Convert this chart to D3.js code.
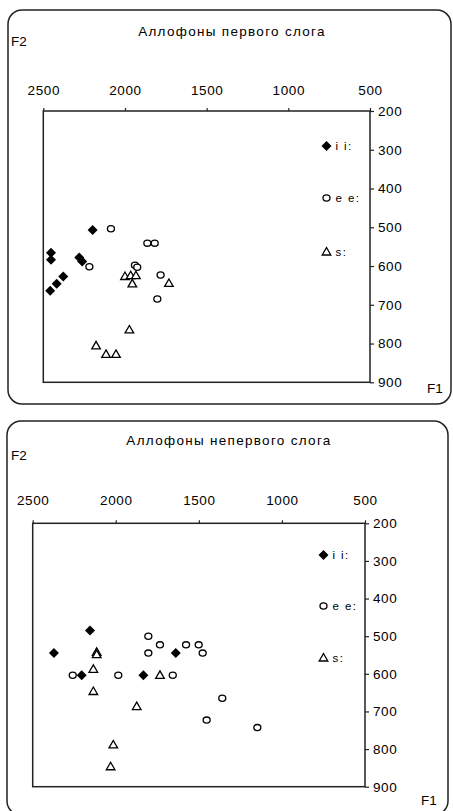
<!DOCTYPE html>
<html>
<head>
<meta charset="utf-8">
<script src="https://cdn.jsdelivr.net/npm/d3@7"></script>
<style>
  body { margin: 0; background: #fff; }
  svg { display: block; }
  text { font-family: "Liberation Sans", Arial, sans-serif; fill: #000; }
</style>
</head>
<body>
<svg id="chart" width="453" height="811"></svg>
<script>
// axis ticks
const f1Ticks = [2500, 2000, 1500, 1000, 500];
const f2Ticks = [200, 300, 400, 500, 600, 700, 800, 900];
const seriesNames = ["i i:", "e e:", "s:"];
const titles = ["Аллофоны первого слога", "Аллофоны непервого слога"];

// first syllable: [F1, F2]
const ii1 = [[2198, 507], [2453, 566], [2453, 584], [2280, 578], [2262, 588],
             [2378, 627], [2418, 646], [2458, 664]];
const ee1 = [[2086, 504], [1863, 541], [1818, 541], [2218, 602], [1939, 598],
             [1925, 603], [1782, 623], [1802, 685]];
const s1 = [[2000, 627], [1965, 625], [1933, 625], [1955, 646], [1731, 645],
            [1973, 765], [2177, 806], [2116, 828], [2055, 828]];

// non-first syllable
const ii2 = [[2155, 485], [2372, 545], [1639, 545], [2205, 604], [1834, 604]];
const ee2 = [[2259, 604], [1985, 604], [1657, 604], [1804, 500], [1804, 545],
             [1734, 523], [1577, 523], [1501, 523], [1477, 545], [1359, 665],
             [1453, 723], [1148, 743]];
const s2 = [[2115, 543], [2115, 549], [2135, 588], [1734, 604], [2135, 647],
            [1874, 687], [2015, 789], [2031, 847]];

const panels = [
  { data: [ii1, ee1, s1], title: titles[0],
    frame: { x: 8, y: 10, w: 443, h: 394 },
    plot: { left: 43.3, right: 370, top: 111, bottom: 382.3 },
    titlePos: [232, 36], f2Pos: [11, 46], f1Pos: [427, 393],
    legendX: 326.5, legendY: [146, 198, 252], xLabelY: 95 },
  { data: [ii2, ee2, s2], title: titles[1],
    frame: { x: 7, y: 421, w: 441, h: 394 },
    plot: { left: 32.7, right: 365, top: 523.3, bottom: 786.7 },
    titlePos: [229, 445], f2Pos: [11, 460], f1Pos: [421, 805],
    legendX: 323.5, legendY: [555, 606, 658], xLabelY: 505 }
];

const svg = d3.select("#chart");
const diamond = d3.symbol().type(d3.symbolSquare).size(50);
const triangle = d3.symbol().type(d3.symbolTriangle).size(32);

function drawMarker(g, kind, x, y) {
  if (kind === 0) {
    g.append("path").attr("d", diamond())
      .attr("transform", `translate(${x},${y}) rotate(45)`)
      .attr("fill", "#000");
  } else if (kind === 1) {
    g.append("ellipse").attr("cx", x).attr("cy", y).attr("rx", 3.5).attr("ry", 3.1)
      .attr("fill", "#fff").attr("stroke", "#000").attr("stroke-width", 1.3);
  } else {
    g.append("path").attr("d", triangle())
      .attr("transform", `translate(${x},${y + 0.5})`)
      .attr("fill", "#fff").attr("stroke", "#000").attr("stroke-width", 1.3);
  }
}

panels.forEach(p => {
  const g = svg.append("g");
  const fr = p.frame, pl = p.plot;

  g.append("rect")
    .attr("x", fr.x).attr("y", fr.y).attr("width", fr.w).attr("height", fr.h)
    .attr("rx", 14).attr("fill", "none").attr("stroke", "#222").attr("stroke-width", 1.5);

  const x = d3.scaleLinear().domain([2500, 500]).range([pl.left, pl.right]);
  const y = d3.scaleLinear().domain([200, 900]).range([pl.top, pl.bottom]);

  // plot border
  g.append("rect")
    .attr("x", pl.left).attr("y", pl.top)
    .attr("width", pl.right - pl.left).attr("height", pl.bottom - pl.top)
    .attr("fill", "none").attr("stroke", "#222").attr("stroke-width", 1.5);

  // top axis (F1)
  const xAxis = g.append("g")
    .attr("transform", `translate(0,${pl.top})`)
    .call(d3.axisTop(x).tickValues(f1Ticks).tickSize(3).tickSizeOuter(0).tickFormat(d3.format("d")));
  xAxis.select(".domain").remove();
  xAxis.selectAll("line").attr("stroke", "#222").attr("stroke-width", 1.2);
  xAxis.selectAll("text")
    .attr("y", p.xLabelY - pl.top).attr("dy", null)
    .attr("font-size", 13.5).attr("letter-spacing", 0.6)
    .attr("font-family", "'Liberation Sans', Arial, sans-serif").attr("fill", "#000");

  // right axis (F2)
  const yAxis = g.append("g")
    .attr("transform", `translate(${pl.right},0)`)
    .call(d3.axisRight(y).tickValues(f2Ticks).tickSize(4).tickSizeOuter(0));
  yAxis.select(".domain").remove();
  yAxis.selectAll("line").attr("stroke", "#222").attr("stroke-width", 1.2);
  yAxis.selectAll("text")
    .attr("x", 8).attr("font-size", 13.5).attr("letter-spacing", 0.6)
    .attr("font-family", "'Liberation Sans', Arial, sans-serif").attr("fill", "#000");

  // labels
  g.append("text").attr("x", p.titlePos[0]).attr("y", p.titlePos[1])
    .attr("text-anchor", "middle").attr("font-size", 13.5).attr("letter-spacing", 1.3)
    .text(p.title);
  g.append("text").attr("x", p.f2Pos[0]).attr("y", p.f2Pos[1])
    .attr("font-size", 13.5).text("F2");
  g.append("text").attr("x", p.f1Pos[0]).attr("y", p.f1Pos[1])
    .attr("font-size", 13.5).text("F1");

  // points
  const marks = g.append("g");
  p.data.forEach((series, k) => {
    series.forEach(d => drawMarker(marks, k, x(d[0]), y(d[1])));
  });

  // legend
  const leg = g.append("g");
  seriesNames.forEach((name, k) => {
    drawMarker(leg, k, p.legendX, p.legendY[k]);
    leg.append("text")
      .attr("x", p.legendX + 9).attr("y", p.legendY[k] + 4)
      .attr("font-family", "'Liberation Serif', 'Times New Roman', serif")
      .attr("font-size", 11.5).attr("letter-spacing", 1.4)
      .text(name);
  });
});
</script>
</body>
</html>
